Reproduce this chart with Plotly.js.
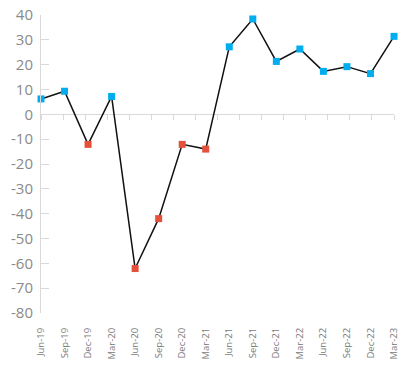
<!DOCTYPE html>
<html>
<head>
<meta charset="utf-8">
<script src="https://cdn.plot.ly/plotly-3.0.1.min.js"></script>
<style>html,body{margin:0;padding:0;background:#fff;}#chart{width:411px;height:371px;}</style>
</head>
<body>
<div id="chart"></div>
<script>
const categories = ["Jun-19","Sep-19","Dec-19","Mar-20","Jun-20","Sep-20","Dec-20","Mar-21","Jun-21","Sep-21","Dec-21","Mar-22","Jun-22","Sep-22","Dec-22","Mar-23"];
const values = [6.2, 9.3, -12.1, 7.2, -62.1, -42.0, -12.1, -14.0, 27.2, 38.4, 21.3, 26.3, 17.3, 19.2, 16.4, 31.4];
const yTicks = [40, 30, 20, 10, 0, -10, -20, -30, -40, -50, -60, -70, -80];

const posColor = "#00AEEF";
const negColor = "#E5503A";
const markerColors = values.map(v => v < 0 ? negColor : posColor);

const trace = {
  x: categories,
  y: values,
  type: "scatter",
  mode: "lines+markers",
  line: {color: "#111111", width: 1.5},
  marker: {symbol: "square", size: 7, color: markerColors},
  hoverinfo: "skip",
  cliponaxis: false
};

const layout = {
  width: 411, height: 371,
  margin: {l: 41, r: 17, t: 15, b: 58},
  paper_bgcolor: "#ffffff",
  plot_bgcolor: "#ffffff",
  showlegend: false,
  font: {family: "Open Sans, sans-serif", color: "#8a8a8a"},
  xaxis: {
    type: "category",
    range: [0, 15],
    showline: false,
    showgrid: false,
    zeroline: false,
    ticks: "",
    tickangle: -90,
    ticklabelstandoff: 12,
    tickfont: {size: 9.5, color: "#7a7a7a"},
    fixedrange: true
  },
  xaxis2: {
    overlaying: "x",
    anchor: "free",
    position: 80 / 120,
    range: [0, 16],
    dtick: 1,
    showline: true,
    linecolor: "#d9d9d9",
    linewidth: 1,
    ticks: "outside",
    ticklen: 5,
    tickcolor: "#d9d9d9",
    showticklabels: false,
    showgrid: false,
    zeroline: false,
    layer: "below traces"
  },
  yaxis: {
    range: [-80, 40],
    tickvals: yTicks,
    ticktext: yTicks.map(String),
    showline: true,
    linecolor: "#d9d9d9",
    linewidth: 1,
    ticks: "inside",
    ticklen: 8,
    tickcolor: "#d9d9d9",
    showgrid: false,
    zeroline: false,
    tickfont: {size: 15, color: "#8a8a8a"},
    ticklabelstandoff: 4,
    fixedrange: true
  }
};

const dummy = {x: [0, 16], y: [null, null], xaxis: "x2", yaxis: "y", type: "scatter", mode: "lines", hoverinfo: "skip", showlegend: false};

Plotly.newPlot("chart", [dummy, trace], layout, {displayModeBar: false, staticPlot: true});
</script>
</body>
</html>
